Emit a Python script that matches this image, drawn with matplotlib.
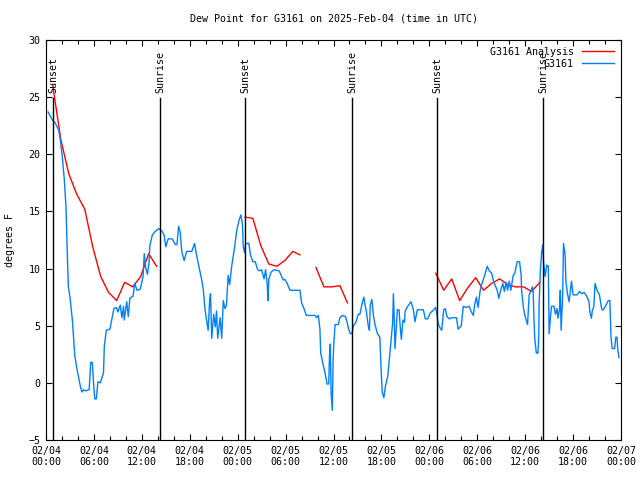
import datetime as dt

import matplotlib
matplotlib.use("Agg")
import matplotlib.pyplot as plt
import matplotlib.dates as mdates

# hours after 2025-02-04 00:00 UTC
obs_hours = [
    0.25, 0.8, 1.1, 1.6, 1.8, 2.05, 2.3, 2.5, 2.7, 2.8, 3.0, 3.3, 3.6, 3.9, 4.3, 4.5, 4.7, 4.9,
    5.4, 5.6, 5.8, 6.0, 6.1, 6.3, 6.5, 6.8, 7.2, 7.3, 7.55, 8.0, 8.5, 8.8, 9.0, 9.3, 9.5, 9.7,
    9.8, 10.1, 10.3, 10.5, 10.9, 11.1, 11.4, 11.8, 12.15, 12.3, 12.5, 12.7, 12.9, 13.0, 13.3,
    13.6, 14.1, 14.5, 14.8, 15.0, 15.3, 15.8, 16.2, 16.4, 16.6, 16.8, 17.0, 17.3, 17.6, 18.25,
    18.6, 18.9, 19.2, 19.5, 19.7, 19.9, 20.1, 20.3, 20.5, 20.6, 20.75, 21.0, 21.2, 21.35, 21.5,
    21.8, 22.0, 22.2, 22.4, 22.6, 22.8, 23.0, 23.25, 23.6, 23.9, 24.2, 24.4, 24.6, 24.7, 24.85,
    25.0, 25.4, 25.6, 25.9, 26.2, 26.5, 26.8, 27.0, 27.3, 27.5, 27.7, 27.8, 27.9, 28.2, 28.55,
    29.2, 29.7, 29.9, 30.2, 30.55, 31.0, 31.8, 32.0, 32.3, 32.6, 33.7, 33.9, 34.1, 34.3, 34.4,
    34.7, 34.9, 35.2, 35.4, 35.5, 35.6, 35.7, 35.85, 35.95, 36.05, 36.2, 36.6, 36.8, 37.1, 37.5,
    37.7, 37.9, 38.1, 38.3, 38.5, 38.8, 39.1, 39.3, 39.6, 39.8, 39.9, 40.1, 40.35, 40.5, 40.6,
    40.8, 41.0, 41.2, 41.5, 41.8, 42.0, 42.1, 42.3, 42.5, 42.8, 43.2, 43.4, 43.5, 43.6, 43.7,
    44.0, 44.2, 44.4, 44.5, 44.7, 44.9, 44.95, 45.2, 45.7, 46.0, 46.2, 46.5, 47.25, 47.5, 47.8,
    48.1, 48.4, 48.8, 48.9, 49.1, 49.35, 49.55, 49.8, 50.0, 50.2, 50.5, 50.8, 51.4, 51.6, 51.75,
    52.0, 52.25, 52.6, 53.0, 53.2, 53.5, 53.7, 53.9, 54.1, 54.35, 54.5, 54.75, 55.0, 55.25, 55.5,
    55.8, 56.0, 56.2, 56.5, 56.7, 56.9, 57.2, 57.4, 57.6, 57.8, 58.0, 58.2, 58.5, 58.7, 59.0,
    59.3, 59.5, 59.55, 59.8, 60.0, 60.3, 60.5, 60.9, 61.0, 61.1, 61.2, 61.4, 61.6, 61.7, 61.75,
    61.9, 62.05, 62.2, 62.3, 62.5, 62.7, 62.9, 63.0, 63.2, 63.3, 63.6, 63.8, 64.0, 64.1, 64.3,
    64.4, 64.5, 64.7, 64.8, 65.0, 65.1, 65.3, 65.5, 65.7, 65.8, 66.0, 66.5, 66.8, 67.1, 67.4,
    67.7, 68.0, 68.1, 68.3, 68.4, 68.6, 68.75, 69.0, 69.3, 69.6, 69.8, 70.2, 70.4, 70.6, 70.75,
    70.9, 71.2, 71.35, 71.5, 71.6, 71.75,
]
obs_dewpt = [
    23.7, 23.0, 22.8, 22.1, 21.2, 19.7, 17.7, 15.4, 10.5, 8.4, 7.5, 5.5, 2.4, 1.1, -0.3, -0.8, -0.6, -0.7,
    -0.6, 1.8, 1.8, -0.5, -1.4, -1.4, 0.1, 0.0, 0.9, 3.2, 4.6, 4.7, 6.5, 6.6, 6.2, 6.8, 5.7, 6.7,
    5.5, 7.1, 5.8, 7.4, 7.6, 8.7, 8.1, 8.2, 9.3, 11.3, 10.0, 9.5, 10.5, 12.0, 12.9,
    13.2, 13.5, 13.3, 12.9, 11.9, 12.6, 12.6, 12.1, 12.1, 13.7, 13.2, 11.5, 10.7, 11.5, 11.5,
    12.2, 11.0, 10.0, 9.0, 8.1, 6.5, 5.5, 4.6, 7.3, 7.8, 3.9, 6.0, 4.9, 6.3, 3.9,
    5.7, 3.9, 7.2, 6.5, 6.8, 9.4, 8.6, 10.2, 11.8, 13.4, 14.3, 14.7, 13.9, 11.9, 11.4,
    12.2, 12.2, 11.2, 10.6, 10.6, 9.9, 9.8, 9.9, 9.1, 9.9, 8.6, 7.2, 9.1, 9.7, 9.9,
    9.8, 9.0, 9.05, 8.7, 8.1, 8.1, 8.1, 7.0, 6.5, 5.9, 5.9, 5.7, 5.9, 4.7, 2.6,
    1.6, 1.0, -0.1, -0.1, 2.4, 3.4, -0.9, -2.4, 2.0, 3.6, 5.1, 5.1, 5.7, 5.9, 5.8,
    5.3, 4.7, 4.3, 4.3, 5.0, 5.3, 6.0, 6.0, 7.0, 7.5, 7.0, 6.3, 5.0, 4.6, 6.8,
    7.3, 5.9, 5.1, 4.3, 4.0, 0.6, -0.8, -1.3, -0.3, 0.6, 3.6, 5.2, 7.8, 5.7, 3.0,
    6.4, 6.4, 4.5, 3.8, 5.5, 5.3, 6.2, 6.6, 7.1, 6.4, 5.35, 6.4, 6.4, 5.6, 5.6,
    6.1, 6.3, 6.6, 6.2, 5.2, 4.8, 4.6, 6.4, 6.5, 5.8, 5.6, 5.7, 5.7, 4.7, 4.8,
    5.0, 6.7, 6.6, 6.7, 6.3, 5.9, 6.9, 7.5, 6.6, 8.0, 8.5, 9.0, 9.6, 10.2, 9.8,
    9.6, 9.0, 8.6, 8.1, 7.4, 8.0, 8.7, 8.0, 8.8, 8.1, 8.9, 8.1, 9.4, 9.6, 10.6,
    10.6, 9.4, 8.1, 6.5, 5.8, 5.1, 7.7, 8.4, 8.1, 5.6, 3.9, 2.6, 2.6, 4.0, 7.0,
    9.8, 11.3, 12.1, 10.6, 9.3, 10.3, 10.2, 4.3, 6.0, 6.7, 6.7, 6.0, 6.5, 5.65, 6.4,
    8.1, 4.6, 7.7, 12.2, 11.2, 8.9, 7.8, 7.1, 8.3, 8.9, 7.7, 7.7, 8.0, 7.8, 7.9,
    7.6, 7.1, 6.2, 5.65, 6.3, 6.7, 8.7, 8.1, 7.7, 6.4, 6.4, 6.9, 7.2, 7.2, 4.0,
    3.0, 3.0, 4.0, 4.0, 2.9, 2.2,
]

# analysis runs, in separate segments (gaps between them)
ana_hours = [
    [0.85, 1.85, 2.85, 3.85, 4.85, 5.85, 6.85, 7.85, 8.85, 9.85, 10.85, 11.85, 12.85, 13.85],
    [24.9, 25.9, 26.9, 27.9, 28.9, 29.9, 30.9, 31.8],
    [33.8, 34.8, 35.8, 36.8, 37.75],
    [48.8, 49.8, 50.8, 51.8, 52.8, 53.8, 54.8, 55.8, 56.8, 57.8, 58.8, 59.8, 60.8, 61.85],
]
ana_dewpt = [
    [26.0, 21.3, 18.3, 16.5, 15.2, 11.9, 9.3, 7.9, 7.2, 8.8, 8.4, 9.3, 11.3, 10.2],
    [14.5, 14.4, 12.0, 10.4, 10.2, 10.7, 11.5, 11.2],
    [10.1, 8.4, 8.4, 8.5, 7.0],
    [9.6, 8.1, 9.1, 7.2, 8.3, 9.2, 8.1, 8.7, 9.1, 8.6, 8.4, 8.4, 8.0, 8.8],
]

sun_hours = [0.88, 14.27, 24.92, 38.32, 48.96, 62.23]
sun_labels = ["Sunset", "Sunrise", "Sunset", "Sunrise", "Sunset", "Sunrise"]

t0 = dt.datetime(2025, 2, 4)


def to_time(hours):
    return [t0 + dt.timedelta(hours=h) for h in hours]


plt.rcParams["font.family"] = "DejaVu Sans Mono"
plt.rcParams["font.size"] = 7

fig = plt.figure(figsize=(6.4, 4.8), dpi=100)
ax = fig.add_axes([0.0719, 0.0833, 0.8984, 0.8334])

for i, (hh, vv) in enumerate(zip(ana_hours, ana_dewpt)):
    ax.plot(to_time(hh), vv, color="#ff0000", lw=1,
            label="G3161 Analysis" if i == 0 else None)
ax.plot(to_time(obs_hours), obs_dewpt, color="#0080ff", lw=1, label="G3161")

for h, lab in zip(sun_hours, sun_labels):
    t = t0 + dt.timedelta(hours=h)
    ax.plot([t, t], [-5, 24.9], color="black", lw=1)
    ax.text(t, 25.4, lab, rotation=90, ha="center", va="bottom", fontsize=7.2)

ax.set_xlim(t0, t0 + dt.timedelta(hours=72))
ax.set_ylim(-5, 30)
ax.set_yticks(range(-5, 31, 5))
ax.xaxis.set_major_locator(mdates.HourLocator(byhour=[0, 6, 12, 18]))
ax.xaxis.set_minor_locator(mdates.HourLocator(byhour=range(0, 24, 2)))
ax.xaxis.set_major_formatter(mdates.DateFormatter("%m/%d\n%H:%M"))
ax.tick_params(direction="in", top=True, right=True, length=4, width=0.8,
               labelsize=7.2, pad=4)
ax.tick_params(which="minor", direction="in", top=True, length=3, width=0.8)
for s in ax.spines.values():
    s.set_linewidth(0.8)

ax.set_ylabel("degrees F", fontsize=7.2, labelpad=10)
ax.set_title("Dew Point for G3161 on 2025-Feb-04 (time in UTC)", fontsize=7.2, pad=13)

ax.legend(loc="upper right", frameon=False, markerfirst=False, fontsize=7.2,
          handlelength=3.2, borderaxespad=0.3, labelspacing=0.2, handletextpad=0.8)

fig.savefig("out.png", dpi=100)
